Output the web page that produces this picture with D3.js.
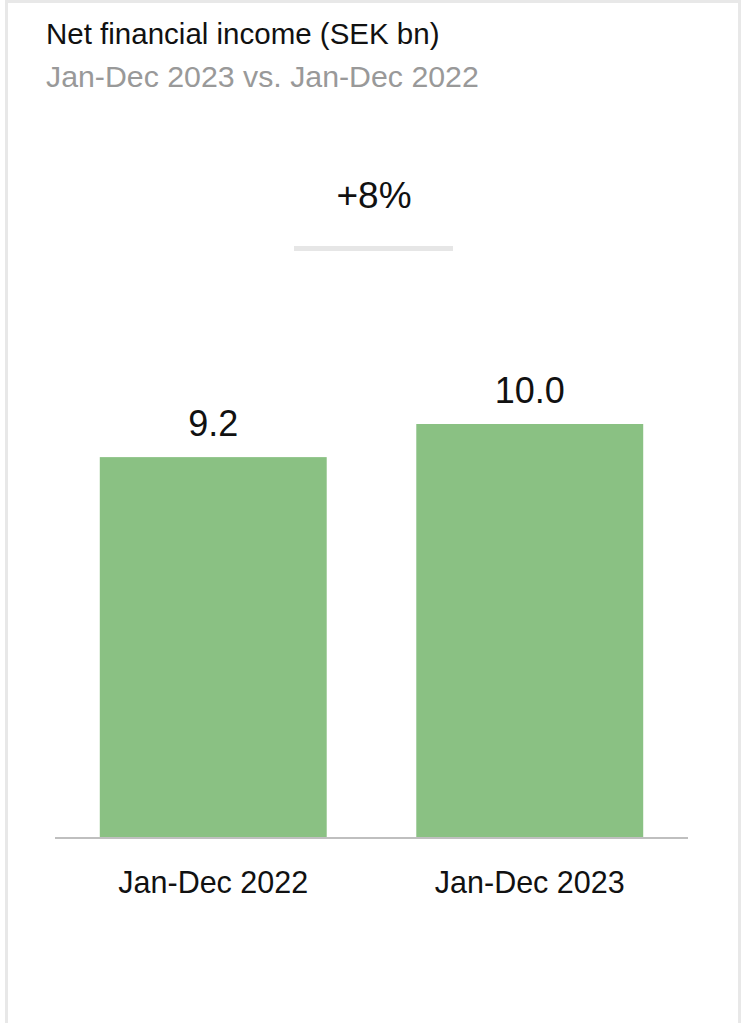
<!DOCTYPE html>
<html>
<head>
<meta charset="utf-8">
<script src="https://cdn.jsdelivr.net/npm/d3@7"></script>
<style>
  html, body { margin: 0; padding: 0; background: #fff; }
  svg { display: block; }
  text { font-family: "Liberation Sans", Arial, sans-serif; }
</style>
</head>
<body>
<div id="chart"></div>
<script>
// Net financial income, SEK bn
const categories = ["Jan-Dec 2022", "Jan-Dec 2023"];
const values = [9.2, 10.0];
const valueLabels = ["9.2", "10.0"];
const changeLabel = "+8%";
const title = "Net financial income (SEK bn)";
const subtitle = "Jan-Dec 2023 vs. Jan-Dec 2022";

const W = 743, H = 1023;
const svg = d3.select("#chart").append("svg")
  .attr("width", W).attr("height", H);

// card frame
svg.append("rect")
  .attr("x", 6.5).attr("y", 1.5)
  .attr("width", 733).attr("height", H + 20)
  .attr("fill", "#fff")
  .attr("stroke", "#e8e8e8")
  .attr("stroke-width", 3);

// heading
svg.append("text")
  .attr("x", 46).attr("y", 44)
  .attr("fill", "#111")
  .attr("font-size", 29.5)
  .text(title);
svg.append("text")
  .attr("x", 46).attr("y", 87)
  .attr("fill", "#999")
  .attr("font-size", 30.3)
  .text(subtitle);

// scales
const x = d3.scaleBand()
  .domain(categories)
  .range([55, 688])
  .paddingInner(0.283)
  .paddingOuter(0.1415);

const y = d3.scaleLinear()
  .domain([0, 10])
  .range([838, 424]);

// change indicator
svg.append("text")
  .attr("x", 374).attr("y", 208)
  .attr("text-anchor", "middle")
  .attr("fill", "#111")
  .attr("font-size", 37)
  .text(changeLabel);
svg.append("rect")
  .attr("x", 294).attr("y", 246)
  .attr("width", 159).attr("height", 5)
  .attr("fill", "#e6e6e6");

// bars
svg.selectAll("rect.bar")
  .data(values)
  .join("rect")
  .attr("class", "bar")
  .attr("x", (d, i) => x(categories[i]))
  .attr("y", d => y(d))
  .attr("width", x.bandwidth())
  .attr("height", d => y(0) - y(d))
  .attr("fill", "#8ac183");

// value labels
svg.selectAll("text.val")
  .data(values)
  .join("text")
  .attr("class", "val")
  .attr("x", (d, i) => x(categories[i]) + x.bandwidth() / 2)
  .attr("y", d => y(d) - 21)
  .attr("text-anchor", "middle")
  .attr("fill", "#111")
  .attr("font-size", 36)
  .text((d, i) => valueLabels[i]);

// baseline axis
const axis = svg.append("g")
  .attr("transform", `translate(0,${y(0)})`)
  .call(d3.axisBottom(x).tickSize(0).tickPadding(33));
axis.select(".domain").attr("stroke", "#bfbfbf").attr("stroke-width", 2)
  .attr("d", "M55,0H688");
axis.selectAll(".tick text")
  .attr("fill", "#111")
  .attr("font-size", 30.5)
  .attr("font-family", "\"Liberation Sans\", Arial, sans-serif");
</script>
</body>
</html>
